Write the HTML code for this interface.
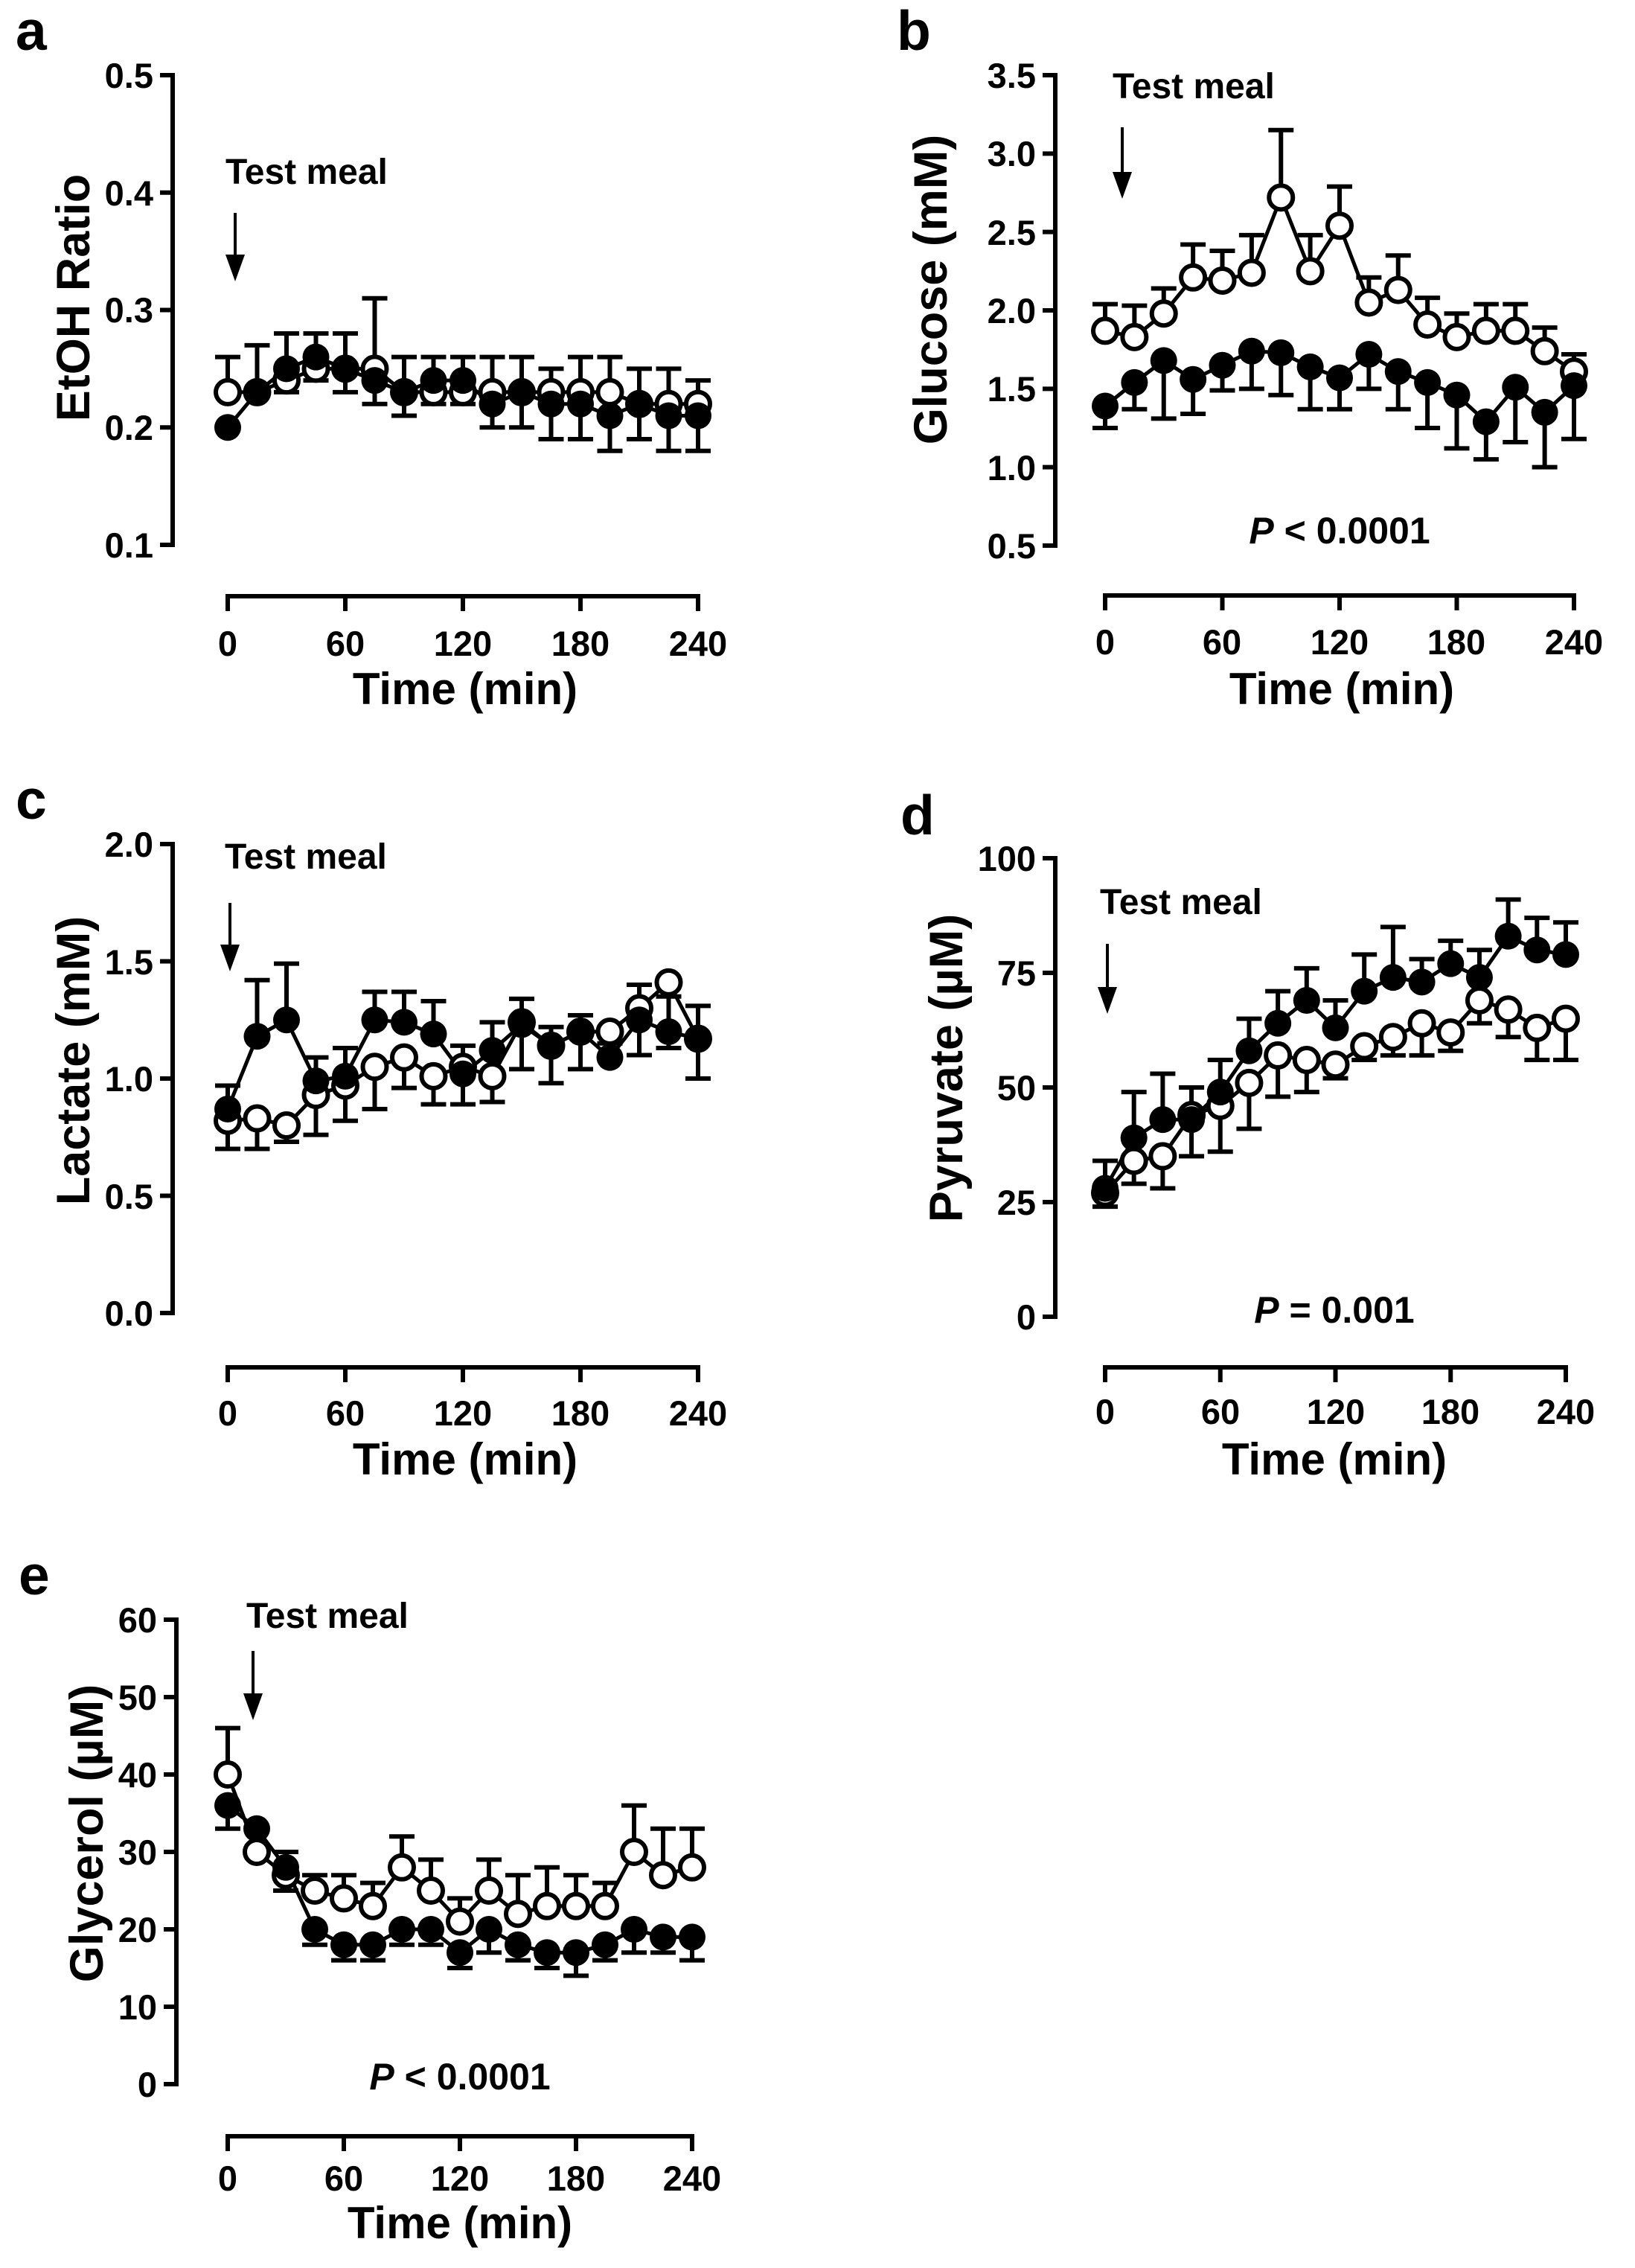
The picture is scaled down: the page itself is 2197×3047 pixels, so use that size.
<!DOCTYPE html>
<html><head><meta charset="utf-8"><style>
html,body{margin:0;padding:0;background:#fff}
svg{display:block}
text{font-family:"Liberation Sans",Arial,sans-serif;font-weight:bold;fill:#000}
.tk{font-size:47px}
.tl{font-size:60px}
.yl{font-size:63px}
.tm{font-size:48px}
.pl{font-size:75px}
.pv{font-size:50px}
</style></head><body>
<svg id="s" width="2197" height="3047" viewBox="0 0 2197 3047" xmlns="http://www.w3.org/2000/svg">
<rect width="2197" height="3047" fill="#fff"/>
<text class="pl" x="21" y="67">a</text>
<text class="pl" x="1205" y="67">b</text>
<text class="pl" x="21" y="1100">c</text>
<text class="pl" x="1210" y="1121">d</text>
<text class="pl" x="25" y="2142">e</text>
<text class="tm" x="303" y="247">Test meal</text>
<text class="tm" x="1495" y="132">Test meal</text>
<text class="tm" x="302" y="1167">Test meal</text>
<text class="tm" x="1478" y="1228">Test meal</text>
<text class="tm" x="331" y="2187">Test meal</text>
<text class="pv" x="1800" y="730" text-anchor="middle"><tspan font-style="italic">P</tspan> &lt; 0.0001</text>
<text class="pv" x="1793" y="1777" text-anchor="middle"><tspan font-style="italic">P</tspan> = 0.001</text>
<text class="pv" x="618" y="2807" text-anchor="middle"><tspan font-style="italic">P</tspan> &lt; 0.0001</text>
<text class="tl" x="625" y="946" text-anchor="middle">Time (min)</text>
<text class="tl" x="1803" y="946" text-anchor="middle">Time (min)</text>
<text class="tl" x="625" y="1981" text-anchor="middle">Time (min)</text>
<text class="tl" x="1793" y="1981" text-anchor="middle">Time (min)</text>
<text class="tl" x="618" y="3007" text-anchor="middle">Time (min)</text>
<text class="yl" transform="translate(120,400) rotate(-90)" text-anchor="middle">EtOH Ratio</text>
<text class="yl" transform="translate(1272,389) rotate(-90)" text-anchor="middle">Glucose (mM)</text>
<text class="yl" transform="translate(120,1425) rotate(-90)" text-anchor="middle">Lactate (mM)</text>
<text class="yl" transform="translate(1293,1435) rotate(-90)" text-anchor="middle">Pyruvate (µM)</text>
<text class="yl" transform="translate(138,2463) rotate(-90)" text-anchor="middle">Glycerol (µM)</text>
<g class="tk" text-anchor="end">
<text x="206" y="118">0.5</text><text x="206" y="276">0.4</text><text x="206" y="433">0.3</text><text x="206" y="591">0.2</text><text x="206" y="749">0.1</text>
<text x="1392" y="118">3.5</text><text x="1392" y="223">3.0</text><text x="1392" y="329">2.5</text><text x="1392" y="434">2.0</text><text x="1392" y="539">1.5</text><text x="1392" y="645">1.0</text><text x="1392" y="750">0.5</text>
<text x="206" y="1151">2.0</text><text x="206" y="1309">1.5</text><text x="206" y="1466">1.0</text><text x="206" y="1624">0.5</text><text x="206" y="1781">0.0</text>
<text x="1392" y="1170">100</text><text x="1392" y="1324">75</text><text x="1392" y="1478">50</text><text x="1392" y="1632">25</text><text x="1392" y="1786">0</text>
<text x="211" y="2193">60</text><text x="211" y="2297">50</text><text x="211" y="2401">40</text><text x="211" y="2505">30</text><text x="211" y="2609">20</text><text x="211" y="2713">10</text><text x="211" y="2817">0</text>
</g>
<g class="tk" text-anchor="middle">
<text x="306" y="881">0</text><text x="464" y="881">60</text><text x="622" y="881">120</text><text x="780" y="881">180</text><text x="938" y="881">240</text>
<text x="1485" y="879">0</text><text x="1642" y="879">60</text><text x="1800" y="879">120</text><text x="1957" y="879">180</text><text x="2115" y="879">240</text>
<text x="306" y="1915">0</text><text x="464" y="1915">60</text><text x="622" y="1915">120</text><text x="780" y="1915">180</text><text x="938" y="1915">240</text>
<text x="1485" y="1913">0</text><text x="1640" y="1913">60</text><text x="1795" y="1913">120</text><text x="1949" y="1913">180</text><text x="2104" y="1913">240</text>
<text x="306" y="2943">0</text><text x="462" y="2943">60</text><text x="618" y="2943">120</text><text x="774" y="2943">180</text><text x="930" y="2943">240</text>
</g>
<g id="g"></g>
</svg>
<script>
var NS="http://www.w3.org/2000/svg",G=document.getElementById('g');
function el(n,a){var e=document.createElementNS(NS,n);for(var k in a)e.setAttribute(k,a[k]);G.appendChild(e);return e;}
function line(x1,y1,x2,y2,w){el('line',{x1:x1,y1:y1,x2:x2,y2:y2,stroke:'#000','stroke-width':w||6});}
function panel(c){
  var Y=function(v){return c.y0+(v-c.v0)/(c.v1-c.v0)*(c.y1-c.y0);};
  var X=function(t){return c.x0+t/240*(c.x1-c.x0);};
  line(c.ax,c.y1-3,c.ax,c.y0+3,6);
  c.ticks.forEach(function(v){line(c.ax-17,Y(v),c.ax,Y(v),6);});
  line(c.x0-3,c.xy,c.x1+3,c.xy,6);
  [0,60,120,180,240].forEach(function(t){line(X(t),c.xy,X(t),c.xy+20,6);});
  line(c.arx,c.art,c.arx,c.arb-30,4);
  el('polygon',{points:(c.arx-13)+','+(c.arb-36)+' '+(c.arx+13)+','+(c.arb-36)+' '+c.arx+','+c.arb,fill:'#000'});
  var ser=[[c.o,c.oe,0],[c.f,c.fe,1]];
  ser.forEach(function(s){
    var v=s[0],e=s[1];
    for(var i=0;i<17;i++){ if(e[i]==null)continue;
      var x=X(i*15);line(x,Y(v[i]),x,Y(e[i]),6);line(x-17,Y(e[i]),x+17,Y(e[i]),6);}
  });
  ser.forEach(function(s){
    var v=s[0],p='';
    for(var i=0;i<17;i++)p+=(i?'L':'M')+X(i*15)+','+Y(v[i]);
    el('path',{d:p,fill:'none',stroke:'#000','stroke-width':5});
  });
  ser.forEach(function(s){
    var v=s[0];
    for(var i=0;i<17;i++){
      if(s[2])el('circle',{cx:X(i*15),cy:Y(v[i]),r:18,fill:'#000'});
      else el('circle',{cx:X(i*15),cy:Y(v[i]),r:16,fill:'#fff',stroke:'#000','stroke-width':6});
    }
  });
}
panel({ax:232,y0:732,y1:101,v0:0.1,v1:0.5,ticks:[0.1,0.2,0.3,0.4,0.5],xy:801,x0:306,x1:938,arx:316,art:286,arb:378,
 o:[0.23,0.23,0.24,0.25,0.25,0.25,0.23,0.23,0.23,0.23,0.23,0.23,0.23,0.23,0.22,0.22,0.22],
 oe:[0.26,null,0.28,0.28,0.28,0.31,0.26,0.26,0.26,0.26,0.26,0.25,0.26,0.26,0.25,0.25,0.24],
 f:[0.20,0.23,0.25,0.26,0.25,0.24,0.23,0.24,0.24,0.22,0.23,0.22,0.22,0.21,0.22,0.21,0.21],
 fe:[null,0.27,0.23,0.24,0.23,0.22,0.21,0.22,0.22,0.20,0.20,0.19,0.19,0.18,0.19,0.18,0.18]});
panel({ax:1418,y0:733,y1:101,v0:0.5,v1:3.5,ticks:[0.5,1,1.5,2,2.5,3,3.5],xy:800,x0:1485,x1:2115,arx:1508,art:171,arb:267,
 o:[1.87,1.83,1.98,2.21,2.19,2.24,2.72,2.25,2.54,2.05,2.13,1.91,1.83,1.87,1.87,1.74,1.61],
 oe:[2.04,2.03,2.14,2.42,2.38,2.48,3.15,2.48,2.79,2.21,2.35,2.08,1.98,2.04,2.04,1.89,1.72],
 f:[1.39,1.54,1.68,1.56,1.65,1.74,1.73,1.64,1.57,1.72,1.61,1.54,1.46,1.29,1.51,1.35,1.52],
 fe:[1.25,1.37,1.31,1.34,1.49,1.50,1.46,1.37,1.37,1.50,1.37,1.25,1.12,1.05,1.16,1.00,1.18]});
panel({ax:232,y0:1764,y1:1134,v0:0,v1:2,ticks:[0,0.5,1,1.5,2],xy:1837,x0:306,x1:938,arx:309,art:1213,arb:1305,
 o:[0.82,0.83,0.80,0.93,0.97,1.05,1.09,1.01,1.05,1.01,1.24,1.14,1.20,1.20,1.30,1.41,1.17],
 oe:[0.70,0.70,0.73,0.76,0.82,0.87,0.96,0.89,0.89,0.90,1.04,0.98,1.04,1.15,1.10,1.13,1.00],
 f:[0.87,1.18,1.25,0.99,1.01,1.25,1.24,1.19,1.02,1.12,1.23,1.14,1.20,1.09,1.25,1.20,1.17],
 fe:[0.97,1.42,1.49,1.09,1.13,1.37,1.37,1.33,1.14,1.24,1.34,1.22,1.27,1.22,1.40,1.35,1.31]});
panel({ax:1418,y0:1769,y1:1153,v0:0,v1:100,ticks:[0,25,50,75,100],xy:1837,x0:1485,x1:2104,arx:1488,art:1268,arb:1362,
 o:[27,34,35,44,46,51,57,56,55,59,61,64,62,69,67,63,65],
 oe:[24,29,28,35,36,41,48,49,52,56,57,57,58,64,61,56,56],
 f:[28,39,43,43,49,58,64,69,63,71,74,73,77,74,83,80,79],
 fe:[34,49,53,50,56,65,71,76,69,79,85,78,82,80,91,87,86]});
panel({ax:237,y0:2800,y1:2176,v0:0,v1:60,ticks:[0,10,20,30,40,50,60],xy:2870,x0:306,x1:930,arx:340,art:2218,arb:2311,
 o:[40,30,27,25,24,23,28,25,21,25,22,23,23,23,30,27,28],
 oe:[46,null,30,27,27,26,32,29,24,29,27,28,27,26,36,33,33],
 f:[36,33,28,20,18,18,20,20,17,20,18,17,17,18,20,19,19],
 fe:[33,null,25,18,16,16,18,18,15,17,16,15,14,16,17,17,16]});
</script>
</body></html>
